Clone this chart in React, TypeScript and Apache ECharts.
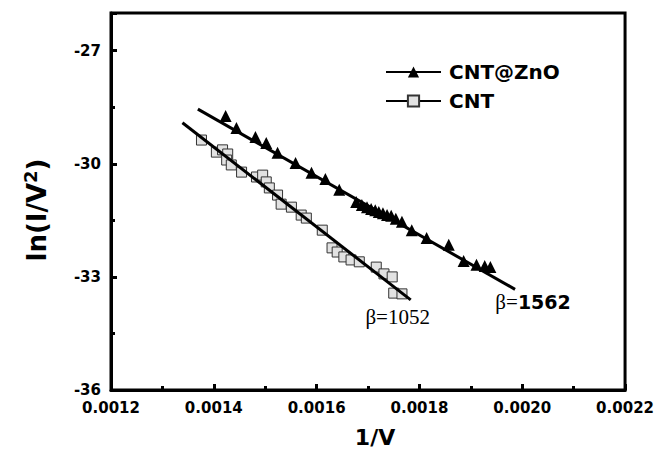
import React, { useEffect, useRef } from "react";
import * as echarts from "echarts";

// CNT@ZnO data (triangles)
const znoX = [0.001423, 0.001444, 0.001481, 0.001502, 0.001524, 0.001559, 0.00159, 0.001617, 0.001644, 0.001677, 0.001688, 0.001698, 0.001706, 0.001714, 0.001721, 0.001729, 0.001737, 0.001745, 0.001754, 0.001766, 0.001785, 0.001814, 0.001857, 0.001886, 0.001911, 0.001927, 0.001938];
const znoY = [-28.73, -29.05, -29.29, -29.45, -29.71, -29.98, -30.24, -30.4, -30.69, -31.01, -31.09, -31.15, -31.2, -31.23, -31.28, -31.31, -31.36, -31.38, -31.46, -31.54, -31.76, -31.97, -32.15, -32.58, -32.68, -32.71, -32.74];

// CNT data (squares)
const cntX = [0.001376, 0.001405, 0.001417, 0.001427, 0.001425, 0.001434, 0.001454, 0.001483, 0.001495, 0.001502, 0.001508, 0.001524, 0.001531, 0.001551, 0.00157, 0.00158, 0.001611, 0.00163, 0.00164, 0.001653, 0.001667, 0.001683, 0.001716, 0.001731, 0.001747, 0.00175, 0.001766];
const cntY = [-29.37, -29.69, -29.63, -29.74, -29.9, -30.03, -30.22, -30.35, -30.3, -30.48, -30.64, -30.83, -31.07, -31.15, -31.36, -31.44, -31.76, -32.23, -32.34, -32.47, -32.55, -32.6, -32.74, -32.92, -33.0, -33.43, -33.45];

// Fitted lines (start, end)
const fitZnoX = [0.001369, 0.001986];
const fitZnoY = [-28.55, -33.33];
const fitCntX = [0.001339, 0.001783];
const fitCntY = [-28.91, -33.61];

const seriesNames = ["CNT@ZnO", "CNT"];
const betaZno = "1562";
const betaCnt = "1052";

const FONT = "DejaVu Sans";

export default function App() {
  const ref = useRef<HTMLDivElement>(null);
  useEffect(() => {
    if (!ref.current) return;
    const chart = echarts.init(ref.current, null, { renderer: "svg" });
    const pairs = (xs: number[], ys: number[]) => xs.map((x, i) => [x, ys[i]]);
    const legendLine = { opacity: 1, width: 2, color: "#000" };
    chart.setOption({
      animation: false,
      grid: { left: 111, right: 30, top: 13, bottom: 65, show: true, borderColor: "#000", borderWidth: 3, backgroundColor: "transparent" },
      legend: {
        orient: "vertical",
        left: 380,
        top: 57,
        itemWidth: 55,
        itemHeight: 14,
        itemGap: 9,
        selectedMode: false,
        textStyle: { fontFamily: FONT, fontWeight: "bold", fontSize: 20, color: "#000", padding: [0, 0, 0, 3] },
        data: [
          { name: seriesNames[0], lineStyle: legendLine },
          { name: seriesNames[1], lineStyle: legendLine },
        ],
      },
      xAxis: {
        type: "value",
        min: 0.0012,
        max: 0.0022,
        interval: 0.0002,
        axisLine: { lineStyle: { color: "#000", width: 3 } },
        axisTick: { inside: true, length: 6, lineStyle: { width: 3, color: "#000" } },
        minorTick: { show: true, splitNumber: 2, length: 4, lineStyle: { width: 3, color: "#000" } },
        splitLine: { show: false },
        axisLabel: {
          formatter: (v: number) => v.toFixed(4),
          fontFamily: FONT,
          fontWeight: "bold",
          fontSize: 15,
          color: "#000",
          margin: 10,
        },
        name: "1/V",
        nameLocation: "middle",
        nameGap: 36,
        nameTextStyle: { fontFamily: FONT, fontWeight: "bold", fontSize: 22, color: "#000", padding: [0, 0, 0, 14] },
      },
      yAxis: {
        type: "value",
        min: -36,
        max: -26,
        interval: 3,
        axisLine: { lineStyle: { color: "#000", width: 3 } },
        axisTick: { inside: true, length: 6, lineStyle: { width: 3, color: "#000" } },
        minorTick: { show: true, splitNumber: 2, length: 4, lineStyle: { width: 3, color: "#000" } },
        splitLine: { show: false },
        axisLabel: {
          formatter: (v: number) => (v > -26.5 ? "" : String(v)),
          fontFamily: FONT,
          fontWeight: "bold",
          fontSize: 15,
          color: "#000",
          margin: 10,
        },
      },
      series: [
        {
          name: seriesNames[1],
          type: "line",
          data: pairs(cntX, cntY),
          symbol: "rect",
          symbolSize: 10,
          showAllSymbol: true,
          itemStyle: { color: "#e2e2e2", borderColor: "#333", borderWidth: 1 },
          lineStyle: { opacity: 0, color: "#000" },
          z: 2,
        },
        {
          name: seriesNames[0],
          type: "line",
          data: pairs(znoX, znoY),
          symbol: "triangle",
          symbolSize: 12,
          showAllSymbol: true,
          itemStyle: { color: "#000" },
          lineStyle: { opacity: 0, color: "#000" },
          z: 2,
        },
        {
          name: "fitCNT",
          type: "line",
          data: pairs(fitCntX, fitCntY),
          symbol: "none",
          lineStyle: { color: "#000", width: 3 },
          silent: true,
          z: 3,
        },
        {
          name: "fitZnO",
          type: "line",
          data: pairs(fitZnoX, fitZnoY),
          symbol: "none",
          lineStyle: { color: "#000", width: 3 },
          silent: true,
          z: 3,
        },
      ],
    });
    const pCnt = chart.convertToPixel({ gridIndex: 0 }, [fitCntX[1], fitCntY[1]]) as number[];
    const pZno = chart.convertToPixel({ gridIndex: 0 }, [fitZnoX[1], fitZnoY[1]]) as number[];
    chart.setOption({
      graphic: [
        {
          type: "text",
          x: 37,
          y: 210,
          rotation: Math.PI / 2,
          style: {
            text: "{a|ln(I/V}{b|2}{a|)}",
            align: "center",
            verticalAlign: "middle",
            rich: {
              a: { fontFamily: FONT, fontWeight: "bold", fontSize: 26, fill: "#000", lineHeight: 32 },
              b: { fontFamily: FONT, fontWeight: "bold", fontSize: 18, fill: "#000", verticalAlign: "top" },
            },
          },
        },
        {
          type: "text",
          x: pCnt[0] - 13,
          y: pCnt[1] + 17,
          style: {
            text: "β=" + betaCnt,
            align: "center",
            verticalAlign: "middle",
            fontFamily: "Liberation Serif",
            fontSize: 21,
            fill: "#000",
          },
        },
        {
          type: "text",
          x: pZno[0] + 18,
          y: pZno[1] + 13,
          style: {
            text: "{s|β=}{b|" + betaZno + "}",
            align: "center",
            verticalAlign: "middle",
            rich: {
              s: { fontFamily: "Liberation Serif", fontSize: 21, fill: "#000" },
              b: { fontFamily: FONT, fontWeight: "bold", fontSize: 19, fill: "#000" },
            },
          },
        },
      ],
    });
    return () => chart.dispose();
  }, []);
  return <div ref={ref} style={{ position: "absolute", left: 0, top: 0, width: 657, height: 455 }} />;
}
